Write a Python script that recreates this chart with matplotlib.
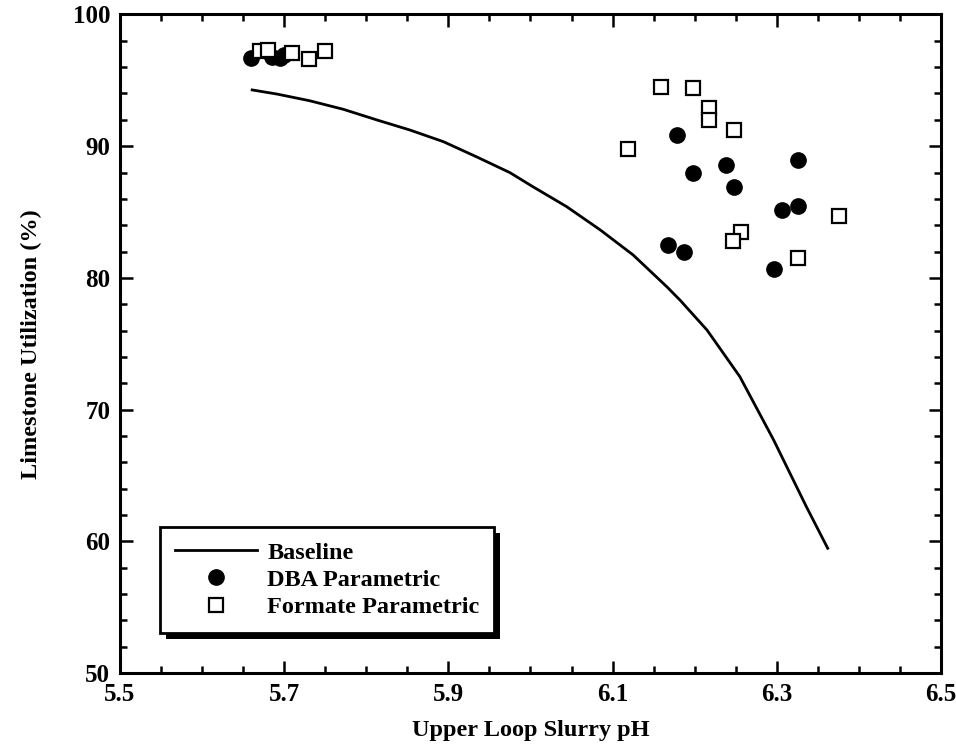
import matplotlib
matplotlib.use('Agg')
import matplotlib.pyplot as plt
from matplotlib.patches import Rectangle
from matplotlib.ticker import MultipleLocator, FormatStrFormatter

plt.rcParams['font.family'] = ['Liberation Serif', 'DejaVu Serif']
plt.rcParams['font.weight'] = 'bold'

# baseline model curve
base_ph = [5.661, 5.691, 5.731, 5.772, 5.813, 5.853, 5.894, 5.934, 5.975, 6.003,
           6.044, 6.085, 6.125, 6.166, 6.182, 6.215, 6.255, 6.296, 6.336, 6.362]
base_util = [94.27, 93.96, 93.45, 92.80, 91.99, 91.23, 90.34, 89.20, 87.99, 86.92,
             85.41, 83.64, 81.74, 79.33, 78.32, 76.04, 72.50, 67.71, 62.63, 59.47]

# DBA parametric tests
dba_ph = [5.66, 5.685, 5.695, 5.70,
          6.178, 6.198, 6.238, 6.248, 6.326, 6.306, 6.326, 6.168, 6.187, 6.296]
dba_util = [96.7, 96.8, 96.7, 96.9,
            90.85, 88.0, 88.6, 86.9, 88.95, 85.15, 85.45, 82.5, 82.0, 80.7]

# formate parametric tests
fmt_ph = [5.67, 5.68, 5.71, 5.73, 5.75,
          6.159, 6.198, 6.218, 6.218, 6.248, 6.119, 6.376, 6.257, 6.247, 6.326]
fmt_util = [97.2, 97.3, 97.1, 96.6, 97.2,
            94.5, 94.4, 92.9, 92.0, 91.2, 89.8, 84.7, 83.5, 82.8, 81.5]

x_ticks = [5.5, 5.7, 5.9, 6.1, 6.3, 6.5]

fig = plt.figure(figsize=(9.56, 7.5), dpi=100)
ax = fig.add_axes([0.1255, 0.1027, 0.8588, 0.878])

ax.plot(base_ph, base_util, color='black', lw=2.0, label='Baseline')
ax.plot(dba_ph, dba_util, ls='none', marker='o', ms=11, color='black',
        label='DBA Parametric')
ax.plot(fmt_ph, fmt_util, ls='none', marker='s', ms=10, mfc='white', mec='black',
        mew=1.6, label='Formate Parametric')

ax.set_xlim(5.5, 6.5)
ax.set_ylim(50, 100)
ax.set_xticks(x_ticks)
ax.xaxis.set_minor_locator(MultipleLocator(0.05))
ax.yaxis.set_major_locator(MultipleLocator(10))
ax.yaxis.set_minor_locator(MultipleLocator(2))
ax.xaxis.set_major_formatter(FormatStrFormatter('%.1f'))

ax.tick_params(which='both', direction='in', top=True, right=True, width=1.8,
               labelsize=18, pad=7)
ax.tick_params(which='major', length=9)
ax.tick_params(which='minor', length=5)
for s in ax.spines.values():
    s.set_linewidth(2.2)

ax.set_xlabel('Upper Loop Slurry pH', fontsize=17.5, fontweight='bold', labelpad=10)
ax.set_ylabel('Limestone Utilization (%)', fontsize=17.5, fontweight='bold', labelpad=22)

leg = ax.legend(loc='lower left', bbox_to_anchor=(0.049, 0.061), borderaxespad=0,
                fontsize=17.5, handlelength=3.4, handletextpad=0.4, labelspacing=0.22,
                borderpad=0.6, fancybox=False, edgecolor='black', framealpha=1)
leg.get_frame().set_linewidth(2.0)
leg.set_zorder(6)

# hard black drop shadow behind the legend box
fig.canvas.draw()
bb = leg.get_window_extent().transformed(fig.transFigure.inverted())
ax.add_patch(Rectangle((bb.x0 + 6 / 956, bb.y0 - 6 / 750), bb.width, bb.height,
                       transform=fig.transFigure, facecolor='black', edgecolor='none',
                       zorder=5.5, clip_on=False))

fig.savefig('out.png', dpi=100)
